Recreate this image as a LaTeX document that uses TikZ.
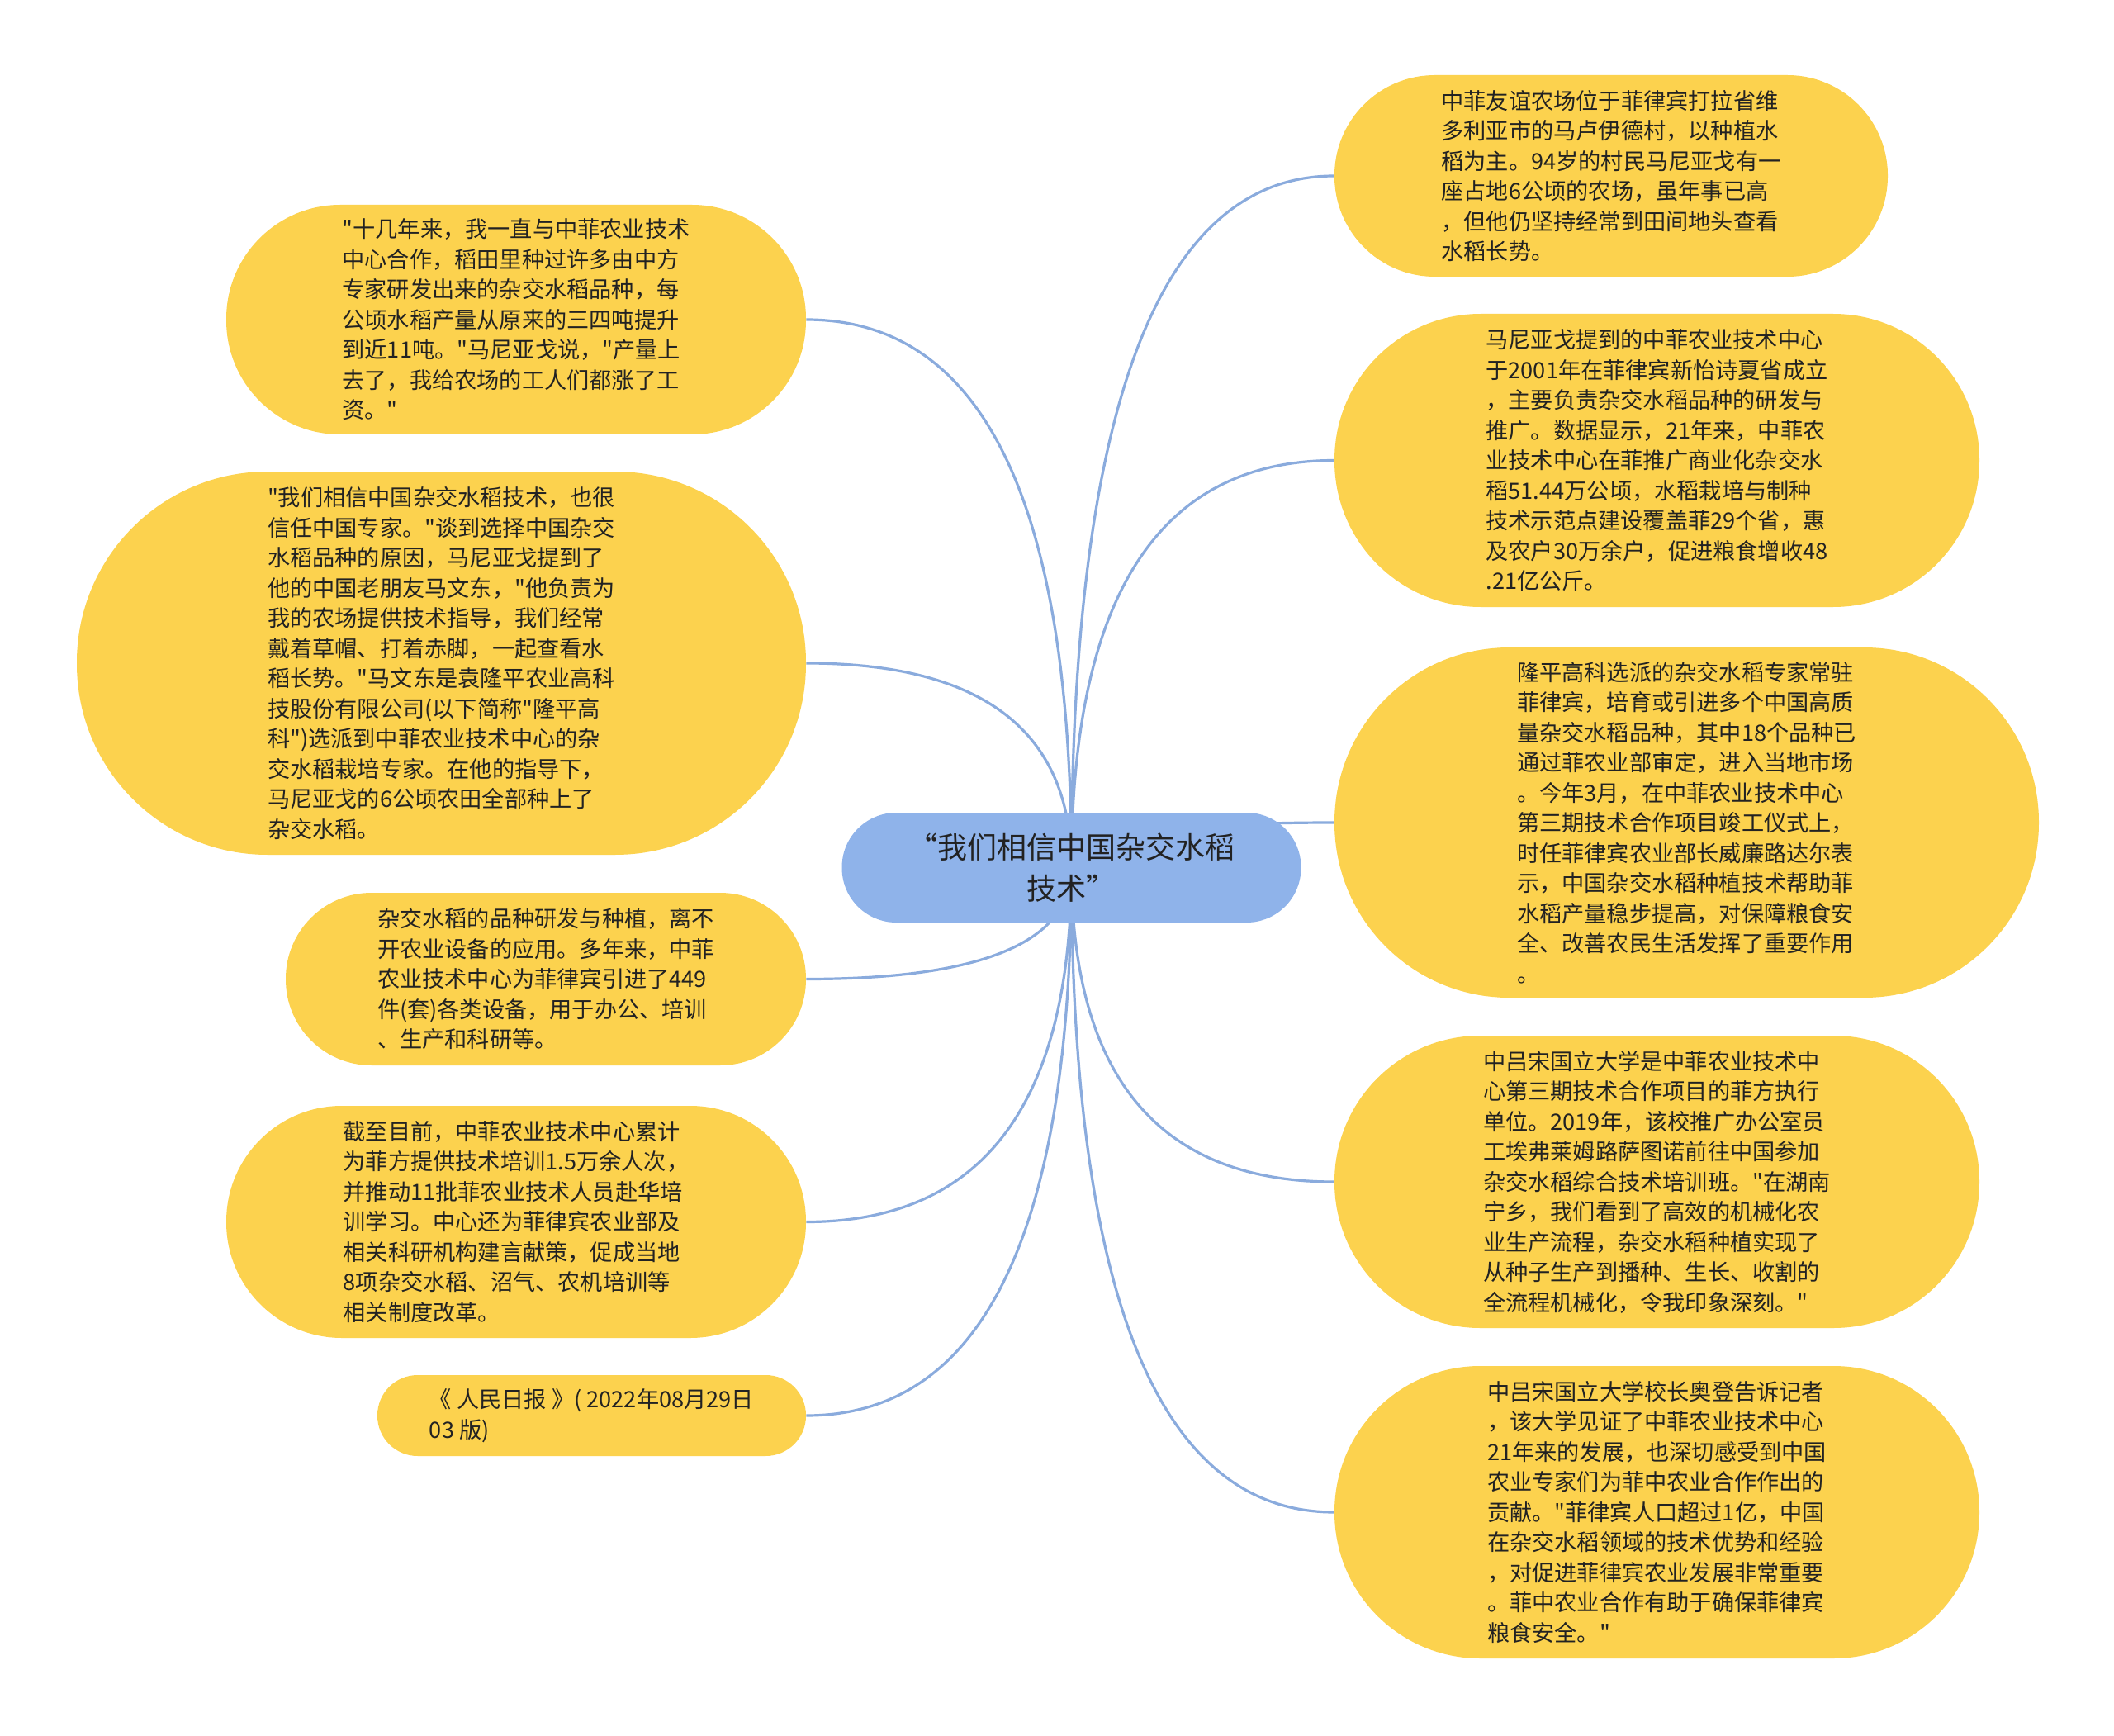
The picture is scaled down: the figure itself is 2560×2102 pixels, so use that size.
\documentclass[tikz,border=0pt]{standalone}
\usepackage{fontspec}
\newfontfamily\cjk{Noto Sans CJK SC}
\usetikzlibrary{calc,backgrounds}
\definecolor{leafy}{HTML}{FCD24E}
\definecolor{rootb}{HTML}{8FB3EA}
\definecolor{linec}{HTML}{8AABDD}
\definecolor{txt}{HTML}{222222}
\tikzset{
  leaf/.style={fill=leafy, text=txt, align=left, inner sep=0pt,
    font={\cjk\fontsize{13.6pt}{18.25pt}\selectfont}},
  rootnode/.style={fill=rootb, text=txt, align=center, inner sep=0pt,
    font={\cjk\fontsize{18pt}{25pt}\selectfont}},
  conn/.style={draw=linec, line width=1.6pt},
}
\begin{document}
\begin{tikzpicture}[x=0.5pt,y=-0.5pt]
\useasboundingbox (0,0) rectangle (2560,2102);

\node[rootnode, minimum width=278pt, minimum height=66.5pt, rounded corners=33pt] (c) at (1297.5,1050.5)
  {“我们相信中国杂交水稻\\技术”};

\node[leaf, minimum width=351pt, minimum height=139pt, rounded corners=69pt] (l1) at (625,387)
  {"十几年来，我一直与中菲农业技术\\中心合作，稻田里种过许多由中方\\专家研发出来的杂交水稻品种，每\\公顷水稻产量从原来的三四吨提升\\到近11吨。"马尼亚戈说，"产量上\\去了，我给农场的工人们都涨了工\\资。"};

\node[leaf, minimum width=441.5pt, minimum height=232pt, rounded corners=115.5pt] (l2) at (534.5,803)
  {"我们相信中国杂交水稻技术，也很\\信任中国专家。"谈到选择中国杂交\\水稻品种的原因，马尼亚戈提到了\\他的中国老朋友马文东，"他负责为\\我的农场提供技术指导，我们经常\\戴着草帽、打着赤脚，一起查看水\\稻长势。"马文东是袁隆平农业高科\\技股份有限公司(以下简称"隆平高\\科")选派到中菲农业技术中心的杂\\交水稻栽培专家。在他的指导下，\\马尼亚戈的6公顷农田全部种上了\\杂交水稻。};

\node[leaf, minimum width=315pt, minimum height=104.5pt, rounded corners=52pt] (l3) at (661,1185.5)
  {杂交水稻的品种研发与种植，离不\\开农业设备的应用。多年来，中菲\\农业技术中心为菲律宾引进了449\\件(套)各类设备，用于办公、培训\\、生产和科研等。};

\node[leaf, minimum width=351pt, minimum height=140.5pt, rounded corners=70pt] (l4) at (625,1479.5)
  {截至目前，中菲农业技术中心累计\\为菲方提供技术培训1.5万余人次，\\并推动11批菲农业技术人员赴华培\\训学习。中心还为菲律宾农业部及\\相关科研机构建言献策，促成当地\\8项杂交水稻、沼气、农机培训等\\相关制度改革。};

\node[leaf, minimum width=259.5pt, minimum height=49pt, rounded corners=24.4pt] (l5) at (716.5,1714)
  {《 人民日报 》( 2022年08月29日\\03 版)};

\node[leaf, minimum width=335pt, minimum height=122pt, rounded corners=60.8pt] (r1) at (1951,213)
  {中菲友谊农场位于菲律宾打拉省维\\多利亚市的马卢伊德村，以种植水\\稻为主。94岁的村民马尼亚戈有一\\座占地6公顷的农场，虽年事已高\\，但他仍坚持经常到田间地头查看\\水稻长势。};

\node[leaf, minimum width=390.5pt, minimum height=177.5pt, rounded corners=88.5pt] (r2) at (2006.5,557.5)
  {马尼亚戈提到的中菲农业技术中心\\于2001年在菲律宾新怡诗夏省成立\\，主要负责杂交水稻品种的研发与\\推广。数据显示，21年来，中菲农\\业技术中心在菲推广商业化杂交水\\稻51.44万公顷，水稻栽培与制种\\技术示范点建设覆盖菲29个省，惠\\及农户30万余户，促进粮食增收48\\.21亿公斤。};

\node[leaf, minimum width=426.5pt, minimum height=212pt, rounded corners=105.8pt] (r3) at (2042.5,996)
  {隆平高科选派的杂交水稻专家常驻\\菲律宾，培育或引进多个中国高质\\量杂交水稻品种，其中18个品种已\\通过菲农业部审定，进入当地市场\\。今年3月，在中菲农业技术中心\\第三期技术合作项目竣工仪式上，\\时任菲律宾农业部长威廉路达尔表\\示，中国杂交水稻种植技术帮助菲\\水稻产量稳步提高，对保障粮食安\\全、改善农民生活发挥了重要作用\\。};

\node[leaf, minimum width=390.5pt, minimum height=177pt, rounded corners=88.3pt] (r4) at (2006.5,1431)
  {中吕宋国立大学是中菲农业技术中\\心第三期技术合作项目的菲方执行\\单位。2019年，该校推广办公室员\\工埃弗莱姆路萨图诺前往中国参加\\杂交水稻综合技术培训班。"在湖南\\宁乡，我们看到了高效的机械化农\\业生产流程，杂交水稻种植实现了\\从种子生产到播种、生长、收割的\\全流程机械化，令我印象深刻。"};

\node[leaf, minimum width=390.5pt, minimum height=177pt, rounded corners=88.3pt] (r5) at (2006.5,1831)
  {中吕宋国立大学校长奥登告诉记者\\，该大学见证了中菲农业技术中心\\21年来的发展，也深切感受到中国\\农业专家们为菲中农业合作作出的\\贡献。"菲律宾人口超过1亿，中国\\在杂交水稻领域的技术优势和经验\\，对促进菲律宾农业发展非常重要\\。菲中农业合作有助于确保菲律宾\\粮食安全。"};

\begin{pgfonlayer}{background}
\fill[white] (0,0) rectangle (2560,2102);
\foreach \t in {r1,r2,r3,r4,r5}
  \draw[conn] (c.center) .. controls ($(c.center)!2/3!(c.center |- \t.west)$) and ($(\t.west)!2/3!(c.center |- \t.west)$) .. (\t.west);
\foreach \t in {l1,l2,l3,l4,l5}
  \draw[conn] (c.center) .. controls ($(c.center)!2/3!(c.center |- \t.east)$) and ($(\t.east)!2/3!(c.center |- \t.east)$) .. (\t.east);
\end{pgfonlayer}
\end{tikzpicture}
\end{document}
